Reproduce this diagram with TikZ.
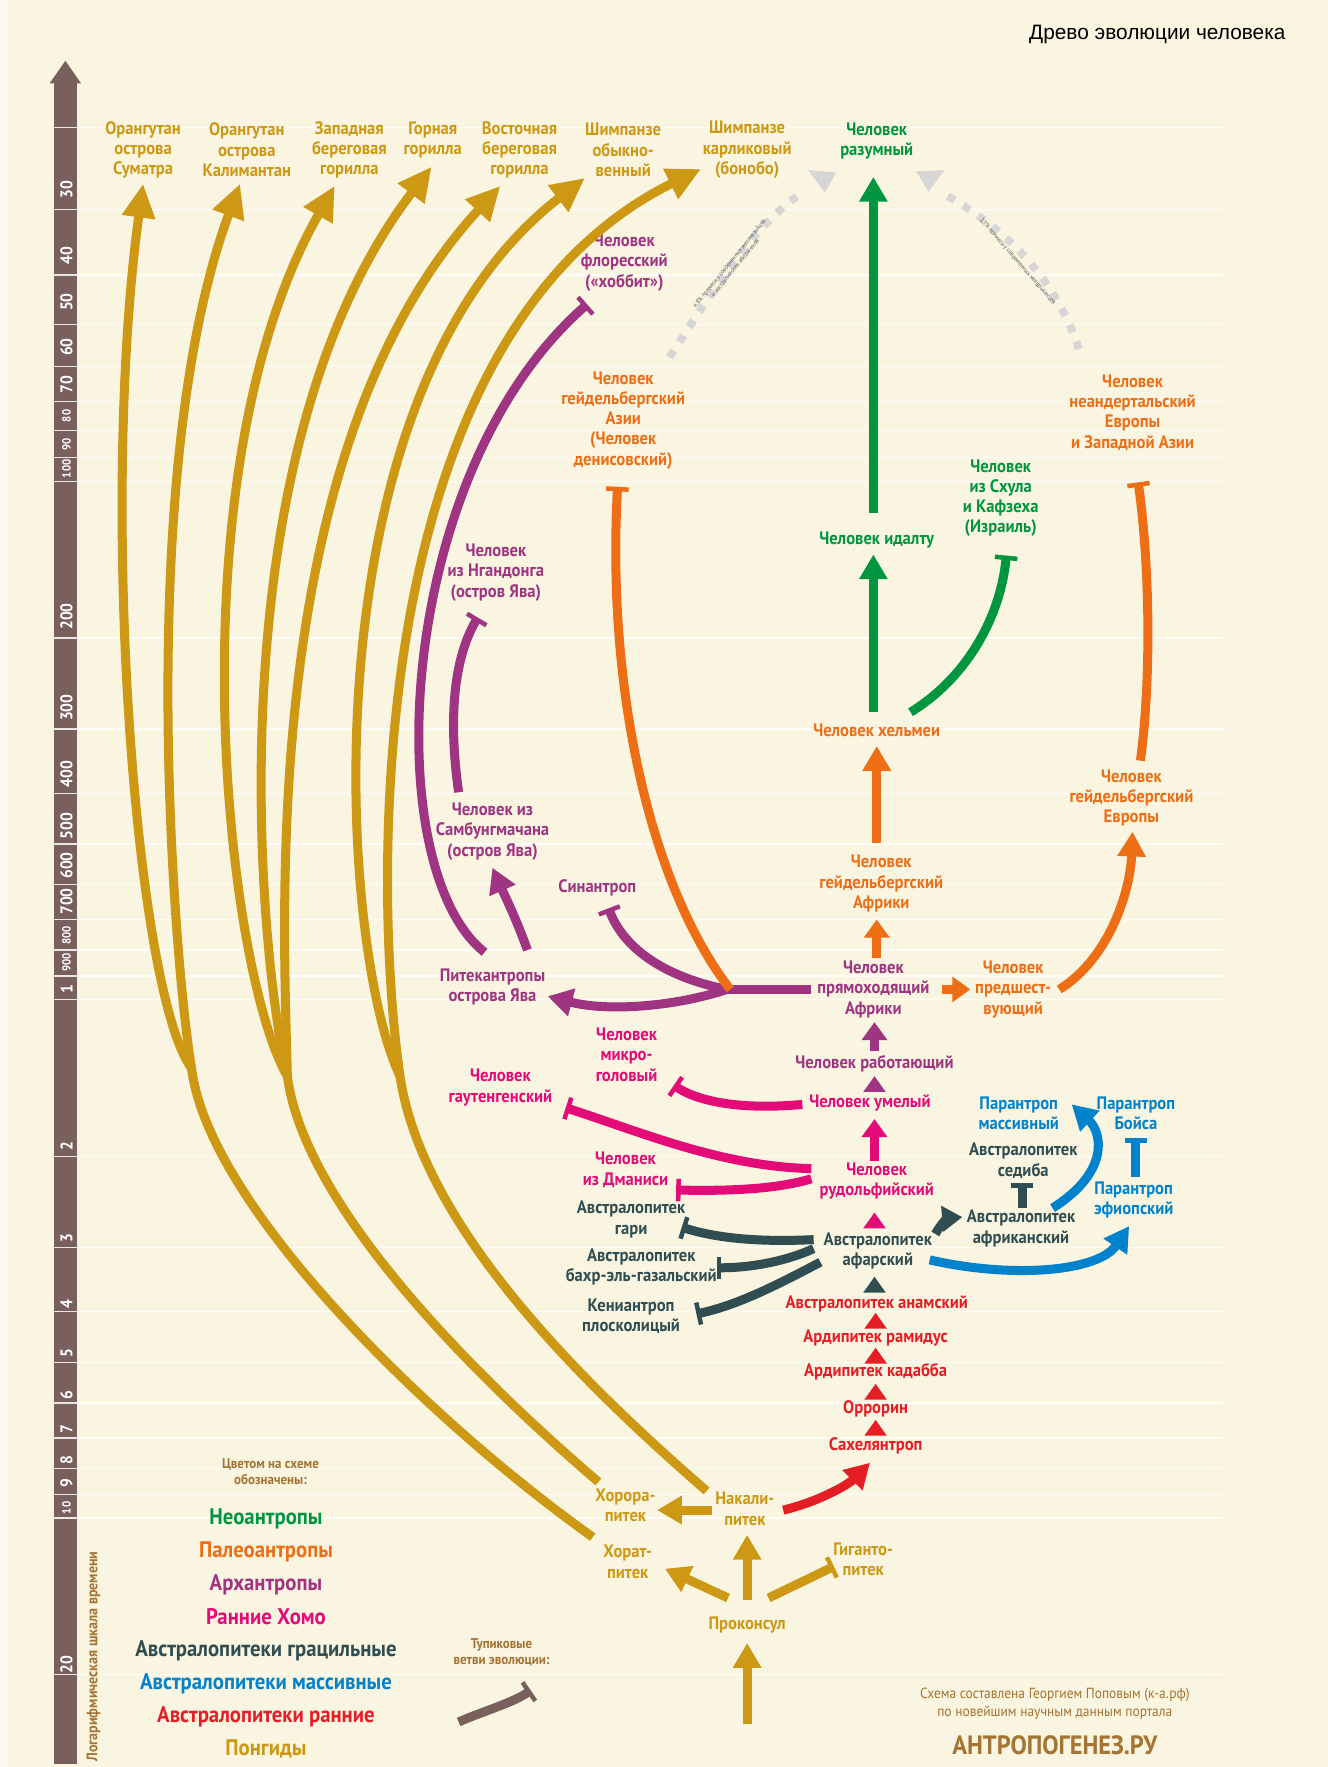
\documentclass[tikz,border=0pt]{standalone}
\usepackage{fontspec}
\setmainfont{PT Sans}
\newfontfamily\lbl{PT Sans}[FakeStretch=0.92]
\newfontfamily\ttl{Liberation Sans}
\usetikzlibrary{arrows.meta}
\definecolor{bg}{RGB}{250,245,224}
\definecolor{gold}{RGB}{205,152,20}
\definecolor{grn}{RGB}{0,150,64}
\definecolor{org}{RGB}{238,110,22}
\definecolor{pur}{RGB}{158,52,130}
\definecolor{pnk}{RGB}{228,10,120}
\definecolor{slt}{RGB}{48,78,82}
\definecolor{blu}{RGB}{0,130,205}
\definecolor{rd}{RGB}{228,30,36}
\definecolor{brn}{RGB}{122,96,92}
\definecolor{lgd}{RGB}{165,115,50}
\definecolor{dots}{RGB}{214,214,214}
\newcommand\uptri[3]{\fill[#1] (#2-10,#3+7) -- (#2,#3-7) -- (#2+10,#3+7) -- cycle;}
\begin{document}
\begin{tikzpicture}[x=1pt,y=-1pt,
  lab/.style={font=\lbl\bfseries\fontsize{16}{18}\selectfont, align=center, inner sep=0pt},
  G/.style={lab,text=gold}, N/.style={lab,text=grn}, O/.style={lab,text=org},
  P/.style={lab,text=pur}, K/.style={lab,text=pnk}, S/.style={lab,text=slt},
  B/.style={lab,text=blu}, R/.style={lab,text=rd},
  leg/.style={font=\lbl\bfseries\fontsize{20}{22}\selectfont, inner sep=0pt},
  small/.style={font=\lbl\bfseries\fontsize{12.5}{14.5}\selectfont, align=center, inner sep=0pt, text=lgd},
  sc/.style={font=\lbl\bfseries\fontsize{15}{15}\selectfont, rotate=90, text=white, inner sep=0pt},
  scs/.style={font=\lbl\bfseries\fontsize{10.5}{10.5}\selectfont, rotate=90, text=white, inner sep=0pt},
  conn/.style={line width=8pt},
  arr/.style={conn, -{Triangle[width=24pt,length=22pt]}},
  bigarr/.style={conn, -{Triangle[width=28pt,length=30pt]}},
  smarr/.style={conn, -{Triangle[width=22pt,length=16pt]}},
  dead/.style={conn, -{Bar[width=20pt,line width=4pt]}},
  dotline/.style={dots, line width=7pt, dash pattern=on 7pt off 9pt},
  note/.style={font=\lbl\fontsize{5.5}{6.5}\selectfont, text=black!65, align=center, inner sep=0pt}
]
\useasboundingbox (0,0) rectangle (1178,1568);
\fill[bg] (0,0) rectangle (1178,1568);
\fill[white!55!bg] (0,0) rectangle (7,1568);

% ---------- time scale ----------
\fill[brn] (48,72) rectangle (68,1565);
\fill[brn] (44,74) -- (58,54) -- (72,74) -- cycle;
\foreach \yy in {113,186,244,288,325,356,382,406,427,566,647,704,749,785,816,843,866,887,1026,1107,1164,1209,1245,1276,1303,1326,1347,1486}
  \draw[white, line width=1.2pt, opacity=0.85] (48,\yy) -- (1086,\yy);
\node[sc] (s30) at (59,168) {30};
\node[sc] (s40) at (59,227) {40};
\node[sc] (s50) at (59,268) {50};
\node[sc] (s60) at (59,308) {60};
\node[sc] (s70) at (59,341) {70};
\node[scs] (s80) at (59,369) {80};
\node[scs] (s90) at (59,394) {90};
\node[scs] (s100) at (59,416) {100};
\node[sc] (s200) at (59,547) {200};
\node[sc] (s300) at (59,628) {300};
\node[sc] (s400) at (59,687) {400};
\node[sc] (s500) at (59,733) {500};
\node[sc] (s600) at (59,768) {600};
\node[sc] (s700) at (59,800) {700};
\node[scs] (s800) at (59,830) {800};
\node[scs] (s900) at (59,854) {900};
\node[sc] (s1) at (59,878) {1};
\node[sc] (s2) at (59,1017) {2};
\node[sc] (s3) at (59,1099) {3};
\node[sc] (s4) at (59,1157) {4};
\node[sc] (s5) at (59,1201) {5};
\node[sc] (s6) at (59,1238) {6};
\node[sc] (s7) at (59,1268) {7};
\node[sc] (s8) at (59,1296) {8};
\node[sc] (s9) at (59,1316) {9};
\node[scs] (s10) at (59,1338) {10};
\node[sc] (s20) at (59,1477) {20};
\node[small, rotate=90, font=\lbl\bfseries\fontsize{13.5}{14}\selectfont] (scalelbl) at (83,1470) {Логарифмическая шкала времени};

% ---------- title ----------
\node[font=\ttl\fontsize{18.5}{20}\selectfont, inner sep=0pt] (title) at (1027,31) {Древо эволюции человека};

% ---------- pongids (top) ----------
\node[G] (sum) at (127,133) {Орангутан\\острова\\Суматра};
\node[G] (kal) at (219,133) {Орангутан\\острова\\Калимантан};
\node[G] (wgor) at (310,133) {Западная\\береговая\\горилла};
\node[G] (mgor) at (384,124) {Горная\\горилла};
\node[G] (egor) at (461,133) {Восточная\\береговая\\горилла};
\node[G] (chimp) at (553,133) {Шимпанзе\\обыкно-\\венный};
\node[G] (bonobo) at (663,133) {Шимпанзе\\карликовый\\(бонобо)};

% ---------- neoanthropes ----------
\node[N] (sap) at (778,125) {Человек\\разумный};
\node[N] (idaltu) at (778,479) {Человек идалту};
\node[N] (skhul) at (888,442) {Человек\\из Схула\\и Кафзеха\\(Израиль)};

% ---------- paleoanthropes ----------
\node[O] (denis) at (553,373) {Человек\\гейдельбергский\\Азии\\(Человек\\денисовский)};
\node[O] (neand) at (1005,366) {Человек\\неандертальский\\Европы\\и Западной Азии};
\node[O] (helmei) at (778,648) {Человек хельмеи};
\node[O] (heidE) at (1004,708) {Человек\\гейдельбергский\\Европы};
\node[O] (heidA) at (782,784) {Человек\\гейдельбергский\\Африки};
\node[O] (antec) at (899,878) {Человек\\предшест-\\вующий};

% ---------- archanthropes ----------
\node[P] (flor) at (554,233) {Человек\\флоресский\\(«хоббит»)};
\node[P] (ngan) at (440,508) {Человек\\из Нгандонга\\(остров Ява)};
\node[P] (samb) at (437,738) {Человек из\\Самбунгмачана\\(остров Ява)};
\node[P] (sinan) at (530,788) {Синантроп};
\node[P] (pith) at (437,876) {Питекантропы\\острова Ява};
\node[P] (erect) at (775,878) {Человек\\прямоходящий\\Африки};
\node[P] (ergas) at (776,944) {Человек работающий};

% ---------- early Homo ----------
\node[K] (micro) at (556,936) {Человек\\микро-\\головый};
\node[K] (gaut) at (444,965) {Человек\\гаутенгенский};
\node[K] (habil) at (772,979) {Человек умелый};
\node[K] (dman) at (555,1038) {Человек\\из Дманиси};
\node[K] (rudol) at (778,1048) {Человек\\рудольфийский};

% ---------- gracile australopiths ----------
\node[S] (garhi) at (560,1082) {Австралопитек\\гари};
\node[S] (afar) at (779,1110) {Австралопитек\\афарский};
\node[S] (bahr) at (569,1124) {Австралопитек\\бахр-эль-газальский};
\node[S] (kenya) at (560,1168) {Кениантроп\\плосколицый};
\node[S] (sediba) at (908,1030) {Австралопитек\\седиба};
\node[S] (afric) at (906,1090) {Австралопитек\\африканский};

% ---------- robust ----------
\node[B] (robust) at (904,988) {Парантроп\\массивный};
\node[B] (boisei) at (1008,988) {Парантроп\\Бойса};
\node[B] (aethio) at (1006,1065) {Парантроп\\эфиопский};

% ---------- early australopiths ----------
\node[R] (anam) at (778,1157) {Австралопитек анамский};
\node[R] (ramid) at (777,1187) {Ардипитек рамидус};
\node[R] (kadab) at (777,1217) {Ардипитек кадабба};
\node[R] (orror) at (777,1250) {Оррорин};
\node[R] (sahel) at (777,1283) {Сахелянтроп};

% ---------- bottom pongids ----------
\node[G] (khoro) at (555,1336) {Хорора-\\питек};
\node[G] (nakal) at (661,1339) {Накали-\\питек};
\node[G] (khorat) at (557,1386) {Хорат-\\питек};
\node[G] (gigan) at (766,1384) {Гиганто-\\питек};
\node[G] (procon) at (663,1442) {Проконсул};

% ---------- legend ----------
\node[small] (legh) at (240,1306) {Цветом на схеме\\обозначены:};
\node[leg, text=grn] (l1) at (236,1348) {Неоантропы};
\node[leg, text=org] (l2) at (236,1377) {Палеоантропы};
\node[leg, text=pur] (l3) at (236,1406) {Архантропы};
\node[leg, text=pnk] (l4) at (236,1435) {Ранние Хомо};
\node[leg, text=slt] (l5) at (236,1465) {Австралопитеки грацильные};
\node[leg, text=blu] (l6) at (236,1494) {Австралопитеки массивные};
\node[leg, text=rd] (l7) at (236,1523) {Австралопитеки ранние};
\node[leg, text=gold] (l8) at (236,1552) {Понгиды};
\node[small] (deadh) at (445,1466) {Тупиковые\\ветви эволюции:};
\coordinate (dA) at (407,1528);
\coordinate (dB) at (471,1500);
\draw[brn, dead] (dA) .. controls (430,1518) and (455,1511) .. (dB);

\node[small, font=\lbl\fontsize{13}{16}\selectfont] (cred) at (936,1512) {Схема составлена Георгием Поповым (к-а.рф)\\по новейшим научным данным портала};
\node[font=\lbl\bfseries\fontsize{23.5}{25}\selectfont, text=lgd, inner sep=0pt] (portal) at (936,1549) {АНТРОПОГЕНЕЗ.РУ};

% ---------- gold lineages ----------
\coordinate (F1) at (170,948);
\coordinate (F2) at (255,955);
\coordinate (F3) at (355,955);
\coordinate (tSum) at (127,163);
\coordinate (tKal) at (213,163);
\coordinate (tWg) at (297,165);
\coordinate (tMg) at (383,148);
\coordinate (tEg) at (444,165);
\coordinate (tCh) at (519,158);
\coordinate (tBo) at (622,150);
\coordinate (eC) at (526,1364);
\coordinate (eB) at (531,1315);
\coordinate (eA) at (627,1323);
\begin{scope}[gold]
\draw[bigarr] (F1) .. controls (120,880) and (88,450) .. (tSum);
\draw[bigarr] (F1) .. controls (155,860) and (118,420) .. (tKal);
\draw[bigarr] (F2) .. controls (200,860) and (152,420) .. (tWg);
\draw[bigarr] (F2) .. controls (228,840) and (190,400) .. (tMg);
\draw[bigarr] (F2) .. controls (252,820) and (228,400) .. (tEg);
\draw[bigarr] (F3) .. controls (300,840) and (270,350) .. (tCh);
\draw[bigarr] (F3) .. controls (332,800) and (318,300) .. (tBo);
\draw[conn] (eC) .. controls (380,1260) and (185,1070) .. (F1);
\draw[conn] (eB) .. controls (420,1220) and (270,1070) .. (F2);
\draw[conn] (eA) .. controls (520,1230) and (375,1090) .. (F3);
% bottom
\draw[arr] (663,1530) -- (663,1458);
\draw[arr] (663,1420) -- (663,1362);
\draw[arr] (646,1418) -- (590,1392);
\draw[dead] (682,1418) -- (740,1390);
\draw[arr] (632,1340) -- (583,1340);
\end{scope}

% ---------- red ----------
\draw[rd, arr] (695,1340) .. controls (725,1333) and (752,1318) .. (772,1298);
\uptri{rd}{777}{1267}
\uptri{rd}{777}{1235}
\uptri{rd}{777}{1203}
\uptri{rd}{777}{1172}

% ---------- gracile ----------
\uptri{slt}{776}{1140}
\draw[slt, dead] (722,1100) .. controls (680,1102) and (640,1100) .. (605,1089);
\draw[slt, dead] (722,1108) .. controls (700,1118) and (670,1125) .. (636,1125);
\draw[slt, dead] (728,1120) .. controls (690,1140) and (655,1158) .. (618,1166);
\draw[slt, conn, -{Triangle[width=22pt,length=18pt]}] (830,1095) .. controls (836,1084) and (842,1081) .. (854,1080);
\draw[slt, dead] (907,1072) -- (907,1050);

% ---------- robust ----------
\draw[blu, arr] (934,1072) .. controls (985,1040) and (978,1005) .. (951,980);
\draw[blu, arr] (825,1118) .. controls (900,1135) and (975,1128) .. (1002,1088);
\draw[blu, dead] (1008,1044) -- (1008,1010);

% ---------- early Homo ----------
\uptri{pnk}{776}{1083}
\draw[pnk, smarr] (776,1030) -- (776,993);
\draw[pnk, dead] (712,980) .. controls (660,985) and (620,978) .. (598,963);
\draw[pnk, dead] (720,1037) .. controls (640,1035) and (570,1005) .. (502,983);
\draw[pnk, dead] (720,1046) .. controls (690,1055) and (650,1057) .. (600,1056);

% ---------- archanthropes ----------
\uptri{pur}{776}{962}
\draw[pur, smarr] (776,933) -- (776,907);
\coordinate (J) at (645,878);
\draw[pur, conn] (720,878) -- (J);
\draw[pur, arr] (J) .. controls (600,893) and (540,898) .. (486,884);
\draw[pur, dead] (J) .. controls (595,868) and (555,845) .. (540,806);
\draw[pur, dead] (430,845) .. controls (335,770) and (350,420) .. (521,270);
\draw[pur, arr] (468,843) .. controls (458,815) and (448,795) .. (437,770);
\draw[pur, dead] (407,703) .. controls (398,640) and (402,585) .. (424,548);

% ---------- paleoanthropes ----------
\draw[org, dead] (648,878) .. controls (580,790) and (538,620) .. (548,432);
\draw[org, smarr] (778,850) -- (778,816);
\draw[org, smarr] (836,878) -- (861,878);
\draw[org, arr] (778,748) -- (778,662);
\draw[org, arr] (940,878) .. controls (985,850) and (1003,790) .. (1005,738);
\draw[org, dead] (1012,675) .. controls (1022,600) and (1020,500) .. (1010,428);

% ---------- neoanthropes ----------
\draw[grn, arr] (775,455) -- (775,157);
\draw[grn, arr] (775,632) -- (775,492);
\draw[grn, dead] (808,632) .. controls (860,600) and (888,545) .. (893,493);

% ---------- admixture ----------
\draw[dotline] (594,317) .. controls (630,262) and (670,198) .. (712,171);
\fill[dots] (717,151) -- (742,153) -- (732,171) -- cycle;
\draw[dotline] (841,174) .. controls (895,205) and (940,250) .. (960,318);
\fill[dots] (813,152) -- (838,151) -- (824,170) -- cycle;
\node[note, rotate=51] (mix1) at (650,236) {4,8\% примеси у современных меланезийцев\\и австралийских аборигенов};
\node[note, rotate=-49] (mix2) at (903,232) {2,5\% примеси у современных неафриканцев};
\end{tikzpicture}
\end{document}
